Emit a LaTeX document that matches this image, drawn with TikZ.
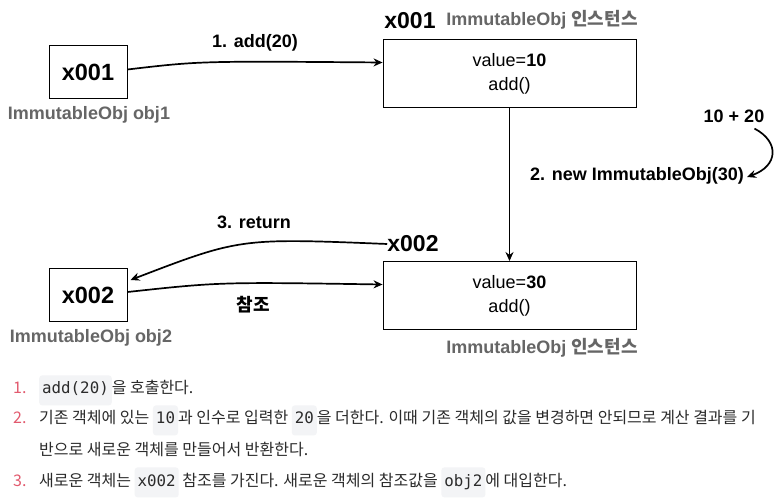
\documentclass[tikz,border=0pt]{standalone}
\usepackage{fontspec}
\setmainfont{Liberation Sans}
\setmonofont{DejaVu Sans Mono}
\newfontfamily\krfont{Noto Sans CJK KR}
\usetikzlibrary{arrows.meta}
\definecolor{lblgray}{HTML}{666666}
\definecolor{numred}{HTML}{E25A6E}
\definecolor{codebg}{HTML}{F3F4F6}
\definecolor{bodytext}{HTML}{2B2B2B}
\newcommand{\cbx}[1]{\tikz[baseline=(cbn.base)]\node[fill=codebg,rounded corners=3pt,inner xsep=3pt,inner ysep=0pt,minimum height=30pt,yshift=4pt](cbn){\ttfamily\fontsize{15.8}{18}\selectfont\strut #1};}
\tikzset{
  refbox/.style={draw, line width=1pt, minimum width=78pt, minimum height=53pt, inner sep=0pt, font=\bfseries\fontsize{23.5}{28}\selectfont},
  instbox/.style={draw, line width=0.9pt, minimum width=253pt, minimum height=68pt, align=center, inner sep=0pt, font=\fontsize{18}{24}\selectfont},
  glabel/.style={text=lblgray, font=\bfseries\fontsize{18}{21}\selectfont, inner sep=0pt},
  blabel/.style={font=\bfseries\fontsize{18}{21}\selectfont, inner sep=0pt},
  addr/.style={font=\bfseries\fontsize{23}{27}\selectfont, inner sep=0pt},
  conn/.style={line width=1.7pt, -{Stealth[length=9pt,width=8pt]}},
  listtxt/.style={inner sep=0pt, anchor=base west, text=bodytext, font=\krfont\fontsize{16}{19}\selectfont},
  listnum/.style={inner sep=0pt, anchor=base west, text=numred, font=\krfont\fontsize{16}{19}\selectfont},
}
\begin{document}
\begin{tikzpicture}[x=1pt,y=-1pt]
\fill[white] (0,0) rectangle (782,502);
\path[use as bounding box] (0,0) rectangle (782,502);

% reference boxes
\node[refbox] (b1) at (88,72.5) {x001};
\node[glabel] (o1) at (89,115) {ImmutableObj obj1};
\node[refbox] (b2) at (88,295) {x002};
\node[glabel] (o2) at (91,338) {ImmutableObj obj2};

% instances
\node[instbox] (i1) at (509.5,73.5) {value=\textbf{10}\\add()};
\node[addr] (a1) at (410,21) {x001};
\node[glabel] (g1) at (542,20) {ImmutableObj {\krfont 인스턴스}};
\node[instbox] (i2) at (509.5,295.5) {value=\textbf{30}\\add()};
\node[addr] (a2) at (413,244) {x002};
\node[glabel] (g2) at (542,348) {ImmutableObj {\krfont 인스턴스}};

% labels
\node[blabel] (l1) at (255,43) {1. add(20)};
\node[blabel] (l3) at (254,222) {3. return};
\node[blabel] (lr) at (253,305) {\krfont 참조};
\node[blabel] (sum) at (734,116) {10 + 20};
\node[blabel] (nw) at (637,176) {2. new ImmutableObj(30)};

% connectors
\draw[conn] ([yshift=3pt]b1.east) .. controls (200,61) .. ([yshift=11pt]i1.west);
\draw[conn] (i1.south) -- (i2.north);
\draw[conn] (a2.west) .. controls (240,238) .. ([xshift=3pt,yshift=-12pt]b2.north east);
\draw[conn] ([yshift=3pt]b2.east) .. controls (220,282) .. ([yshift=11pt]i2.west);
\draw[conn] ([xshift=-10pt,yshift=-6pt]sum.south east) .. controls (780,142) and (778,166) .. ([xshift=3pt,yshift=-1pt]nw.east);

% list text
\node[listnum] (n1) at (13,394) {1.};
\node[listtxt] (t1) at (39,394) {\cbx{add(20)}을 호출한다.};
\node[listnum] (n2) at (13,424) {2.};
\node[listtxt] (t2) at (39,424) {기존 객체에 있는 \cbx{10}과 인수로 입력한 \cbx{20}을 더한다. 이때 기존 객체의 값을 변경하면 안되므로 계산 결과를 기};
\node[listtxt] (t2b) at (39,456) {반으로 새로운 객체를 만들어서 반환한다.};
\node[listnum] (n3) at (13,486) {3.};
\node[listtxt] (t3) at (39,486) {새로운 객체는 \cbx{x002} 참조를 가진다. 새로운 객체의 참조값을 \cbx{obj2}에 대입한다.};
\end{tikzpicture}
\end{document}
